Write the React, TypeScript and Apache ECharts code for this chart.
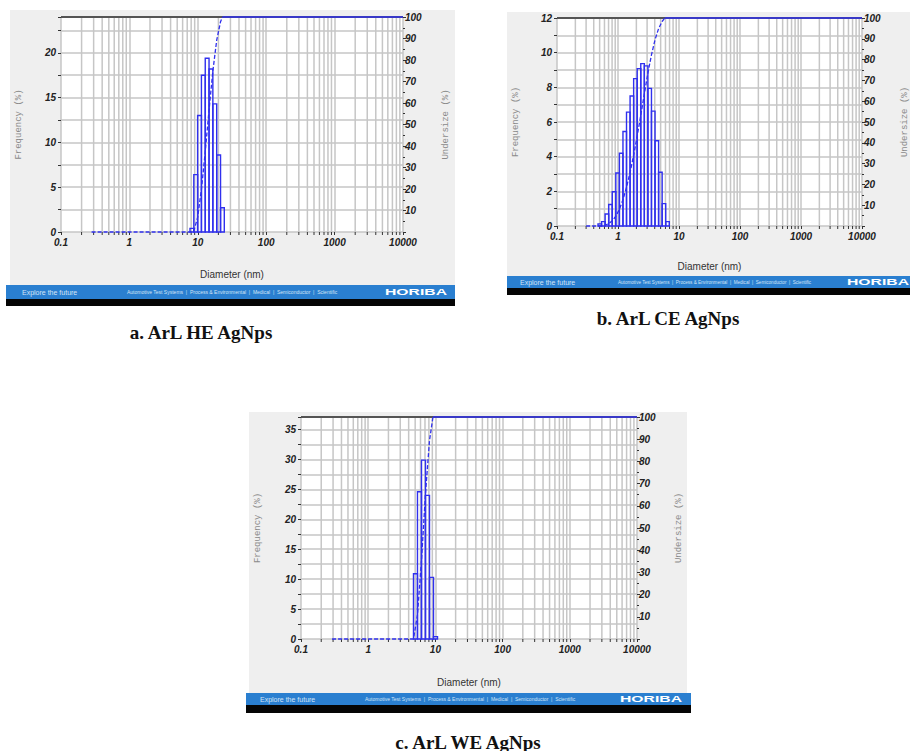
import React, { useEffect, useRef } from 'react';
import * as echarts from 'echarts';

// ---------- data ----------
const X_LABELS = ['0.1', '1', '10', '100', '1000', '10000'];
const MINOR_X = [0.2, 0.3, 0.4, 0.5, 0.6, 0.7, 0.8, 0.9, 2, 3, 4, 5, 6, 7, 8, 9, 20, 30, 40, 50, 60, 70, 80, 90, 200, 300, 400, 500, 600, 700, 800, 900, 2000, 3000, 4000, 5000, 6000, 7000, 8000, 9000];

// a. ArL HE AgNps
const EDGES_A = [7.69, 8.74, 9.94, 11.3, 12.85, 14.6, 16.6, 18.9, 21.5, 24.4];
const FREQ_A = [0.4, 6.4, 13.0, 17.5, 19.4, 18.2, 14.3, 8.6, 2.7];
const CUMX_A = [0.28, 7.69, 8.74, 9.94, 11.3, 12.85, 14.6, 16.6, 18.9, 21.5, 23.0];
const CUMY_A = [0, 0, 0.4, 6.8, 19.8, 37.3, 56.7, 74.9, 89.2, 97.8, 100];

// b. ArL CE AgNps
const EDGES_B = [0.47, 0.538, 0.615, 0.704, 0.805, 0.921, 1.054, 1.206, 1.379, 1.578, 1.805, 2.065, 2.362, 2.702, 3.091, 3.537, 4.046, 4.629, 5.295, 6.058, 6.93];
const FREQ_B = [0.12, 0.25, 0.69, 1.24, 1.98, 3.06, 4.2, 5.45, 6.57, 7.5, 8.5, 9.08, 9.37, 9.24, 7.94, 6.63, 4.92, 3.1, 1.29, 0.25];
const CUMX_B = [0.3, 0.47, 0.538, 0.615, 0.704, 0.805, 0.921, 1.054, 1.206, 1.379, 1.578, 1.805, 2.065, 2.362, 2.702, 3.091, 3.537, 4.046, 4.629, 5.295, 5.85];
const CUMY_B = [0, 0, 0.13, 0.4, 1.16, 2.52, 4.68, 8.03, 12.63, 18.59, 25.78, 33.99, 43.29, 53.23, 63.48, 73.59, 82.28, 89.54, 94.92, 98.31, 100];

// c. ArL WE AgNps
const EDGES_C = [4.72, 5.41, 6.21, 7.12, 8.17, 9.37, 10.75];
const FREQ_C = [10.9, 24.6, 29.9, 24.0, 10.3, 0.4];
const CUMX_C = [0.29, 4.72, 5.41, 6.21, 7.12, 8.17, 9.2];
const CUMY_C = [0, 0, 10.9, 35.5, 65.4, 89.4, 100];

const CAPTIONS = ['a. ArL HE AgNps', 'b. ArL CE AgNps', 'c. ArL WE AgNps'];
const FOOT_LEFT = 'Explore the future';
const FOOT_MID = 'Automotive Test Systems  |  Process & Environmental  |  Medical  |  Semiconductor  |  Scientific';

const BLUE = '#3030ee';
const GRIDC = '#c6c6c6';
const FONT = 'Liberation Sans, Arial, sans-serif';

type Panel = {
  grid: { left: number; top: number; width: number; height: number };
  ymax: number; step: number; labelStep: number;
  edges: number[]; freq: number[]; cumX: number[]; cumY: number[];
  xGap: number; lGap: number; rGap: number;
};

const PANELS: Panel[] = [
  { grid: { left: 61, top: 17, width: 342, height: 215 }, ymax: 24, step: 2.5, labelStep: 5,
    edges: EDGES_A, freq: FREQ_A, cumX: CUMX_A, cumY: CUMY_A, xGap: 37, lGap: 38, rGap: 38 },
  { grid: { left: 557, top: 18, width: 314, height: 208 }, ymax: 12, step: 1, labelStep: 2,
    edges: EDGES_B, freq: FREQ_B, cumX: CUMX_B, cumY: CUMY_B, xGap: 35, lGap: 37, rGap: 38 },
  { grid: { left: 301, top: 417, width: 336, height: 222 }, ymax: 37.1, step: 2.5, labelStep: 5,
    edges: EDGES_C, freq: FREQ_C, cumX: CUMX_C, cumY: CUMY_C, xGap: 38, lGap: 39, rGap: 37 },
];

function footer(x: number, y: number, w: number, hb: number, hk: number, t1: number, t2: number, hx: number, midSize: number) {
  const cy = y + hb / 2;
  return [
    { type: 'rect', z: 10, shape: { x, y, width: w, height: hb }, style: { fill: '#2a7fd0' } },
    { type: 'rect', z: 10, shape: { x, y: y + hb, width: w, height: hk }, style: { fill: '#050505' } },
    { type: 'text', z: 11, x: t1, y: cy, style: { text: FOOT_LEFT, fill: '#d2e4f6', fontSize: 7, fontFamily: FONT, verticalAlign: 'middle' } },
    { type: 'text', z: 11, x: t2, y: cy, style: { text: FOOT_MID, fill: '#d2e4f6', fontSize: midSize, fontFamily: FONT, verticalAlign: 'middle' } },
    { type: 'text', z: 11, x: hx, y: cy, scaleX: 1.75, style: { text: 'HORIBA', fill: '#ffffff', fontSize: 9, fontWeight: 'bold', fontFamily: FONT, verticalAlign: 'middle' } },
  ];
}

export default function App() {
  const ref = useRef<HTMLDivElement>(null);
  useEffect(() => {
    if (!ref.current) return;
    const chart = echarts.init(ref.current, null, { renderer: 'svg' });

    const grids: any[] = [];
    const xAxes: any[] = [];
    const yAxes: any[] = [];
    const series: any[] = [];

    PANELS.forEach((p, i) => {
      grids.push({ ...p.grid, show: true, backgroundColor: '#ffffff', borderWidth: 0, containLabel: false });
      xAxes.push({
        type: 'log', logBase: 10, min: 0.1, max: 10000, splitNumber: 5, gridIndex: i,
        name: 'Diameter (nm)', nameLocation: 'middle', nameGap: p.xGap,
        nameTextStyle: { fontSize: 10, color: '#333', fontFamily: FONT },
        axisLine: { show: false },
        axisTick: { show: true, length: 3, lineStyle: { color: '#333' } },
        axisLabel: {
          fontSize: 10, fontStyle: 'italic', fontWeight: 'bold', color: '#222', margin: 5, fontFamily: FONT,
          formatter: (v: number) => X_LABELS[Math.round(Math.log10(v)) + 1] ?? '',
        },
        splitLine: { show: true, lineStyle: { color: GRIDC, width: 1.5 } },
      });
      yAxes.push({
        type: 'value', gridIndex: i, min: 0, max: p.ymax, interval: p.step, position: 'left',
        name: 'Frequency (%)', nameLocation: 'middle', nameRotate: 90, nameGap: p.lGap,
        nameTextStyle: { fontFamily: 'Liberation Mono, monospace', fontSize: 9, color: '#8a8a8a' },
        axisLine: { show: false },
        axisTick: { show: true, length: 3, lineStyle: { color: '#333' } },
        axisLabel: {
          fontSize: 10, fontStyle: 'italic', fontWeight: 'bold', color: '#222', margin: 5, fontFamily: FONT,
          formatter: (v: number) => (Math.abs(v / p.labelStep - Math.round(v / p.labelStep)) < 1e-6 ? String(v) : ''),
        },
        splitLine: { show: true, lineStyle: { color: GRIDC, width: 1.5 } },
      });
      yAxes.push({
        type: 'value', gridIndex: i, min: 0, max: 100, interval: 10, position: 'right',
        name: 'Undersize (%)', nameLocation: 'middle', nameRotate: 90, nameGap: p.rGap,
        nameTextStyle: { fontFamily: 'Liberation Mono, monospace', fontSize: 9, color: '#8a8a8a' },
        axisLine: { show: false },
        axisTick: { show: true, length: 3, lineStyle: { color: '#333' } },
        minorTick: { show: true, splitNumber: 2, length: 2, lineStyle: { color: '#333' } },
        axisLabel: {
          fontSize: 10, fontStyle: 'italic', fontWeight: 'bold', color: '#222', margin: 2, fontFamily: FONT,
          formatter: (v: number) => (v === 0 ? '' : String(v)),
        },
        splitLine: { show: false },
      });
      const yl = 2 * i;
      const yr = 2 * i + 1;
      const ymax = p.ymax;
      // minor vertical gridlines + small bottom ticks, plus dark top border
      series.push({
        type: 'custom', xAxisIndex: i, yAxisIndex: yl, z: 1, silent: true, clip: false,
        data: MINOR_X.map((v) => [v, 0]), encode: { x: 0, y: 1 },
        renderItem: (_params: any, api: any) => {
          const v = api.value(0);
          const b = api.coord([v, 0]);
          const t = api.coord([v, ymax]);
          return {
            type: 'group',
            children: [
              { type: 'line', shape: { x1: b[0], y1: b[1], x2: t[0], y2: t[1] }, style: { stroke: GRIDC, lineWidth: 1.5 } },
              { type: 'line', shape: { x1: b[0], y1: b[1], x2: b[0], y2: b[1] + 3 }, style: { stroke: '#333', lineWidth: 1 } },
            ],
          };
        },
        markLine: {
          z: 2, silent: true, symbol: 'none', label: { show: false },
          lineStyle: { color: '#555', width: 2.2, type: 'solid' },
          data: [{ yAxis: ymax }],
        },
      });
      // histogram bars
      series.push({
        type: 'custom', xAxisIndex: i, yAxisIndex: yl, z: 5, silent: true, clip: false,
        data: p.freq.map((h, k) => [p.edges[k], p.edges[k + 1], h]),
        encode: { x: [0, 1], y: 2 },
        renderItem: (_params: any, api: any) => {
          const a = api.coord([api.value(0), api.value(2)]);
          const b = api.coord([api.value(1), 0]);
          return {
            type: 'rect',
            shape: { x: a[0], y: a[1], width: b[0] - a[0], height: b[1] - a[1] },
            style: { fill: 'rgba(0,0,0,0)', stroke: BLUE, lineWidth: 1.4 },
          };
        },
      });
      // cumulative (undersize) curve
      series.push({
        type: 'line', xAxisIndex: i, yAxisIndex: yr, z: 8, showSymbol: false, silent: true, clip: false,
        data: p.cumX.map((x, k) => [x, p.cumY[k]]),
        lineStyle: { color: BLUE, width: 1.3, type: [4, 2] },
      });
      series.push({
        type: 'line', xAxisIndex: i, yAxisIndex: yr, z: 8, showSymbol: false, silent: true, clip: false,
        data: [[p.cumX[p.cumX.length - 1], 100], [10000, 100]],
        lineStyle: { color: BLUE, width: 1.6, type: 'solid' },
      });
    });

    const graphics: any[] = [
      { type: 'rect', z: -1, shape: { x: 10, y: 10, width: 445, height: 275 }, style: { fill: '#efefef' } },
      { type: 'rect', z: -1, shape: { x: 507, y: 12, width: 403, height: 264 }, style: { fill: '#efefef' } },
      { type: 'rect', z: -1, shape: { x: 249, y: 412, width: 438, height: 281 }, style: { fill: '#efefef' } },
      ...footer(6, 285, 449, 14, 7, 22, 127, 385, 5),
      ...footer(507, 276, 403, 12, 7, 520, 618, 847, 4.6),
      ...footer(246, 693, 445, 12, 8, 260, 365, 620, 5),
      { type: 'text', z: 11, x: 201, y: 332, style: { text: CAPTIONS[0], fill: '#111', fontSize: 19, fontWeight: 'bold', fontFamily: 'Liberation Serif, Times New Roman, serif', align: 'center', verticalAlign: 'middle' } },
      { type: 'text', z: 11, x: 668, y: 318, style: { text: CAPTIONS[1], fill: '#111', fontSize: 19, fontWeight: 'bold', fontFamily: 'Liberation Serif, Times New Roman, serif', align: 'center', verticalAlign: 'middle' } },
      { type: 'text', z: 11, x: 468, y: 742, style: { text: CAPTIONS[2], fill: '#111', fontSize: 19, fontWeight: 'bold', fontFamily: 'Liberation Serif, Times New Roman, serif', align: 'center', verticalAlign: 'middle' } },
    ];

    chart.setOption({
      animation: false,
      backgroundColor: '#ffffff',
      textStyle: { fontFamily: FONT },
      grid: grids,
      xAxis: xAxes,
      yAxis: yAxes,
      series,
      graphic: { elements: graphics },
    });
    return () => chart.dispose();
  }, []);
  return <div ref={ref} style={{ position: 'absolute', left: 0, top: 0, width: 910, height: 751 }} />;
}
